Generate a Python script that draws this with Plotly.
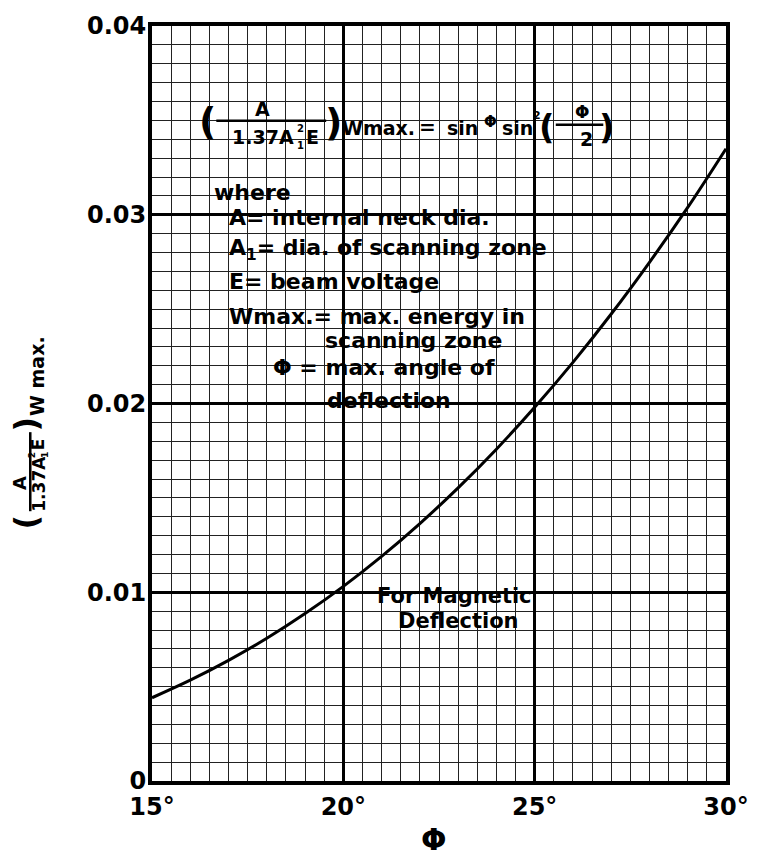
import plotly.graph_objects as go

# ---- data ----
phi_deg = [15, 16, 17, 18, 19, 20, 21, 22, 23, 24, 25, 26, 27, 28, 29, 30]
w_norm = [0.00441, 0.00534, 0.00639, 0.00756, 0.00887, 0.01031, 0.01190, 0.01364,
          0.01553, 0.01758, 0.01980, 0.02218, 0.02474, 0.02748, 0.03039, 0.03350]

x_tickvals = [15, 20, 25, 30]
x_ticktext = ["15°", "20°", "25°", "30°"]
y_tickvals = [0, 0.01, 0.02, 0.03, 0.04]
y_ticktext = ["0", "0.01", "0.02", "0.03", "0.04"]

W, H = 761, 858
ML, MR, MT, MB = 152, 29, 17, 77
PW, PH = W - ML - MR, H - MT - MB
FONT = "DejaVu Sans"


def P(px, py):
    return (px - ML) / PW, (H - MB - py) / PH


fig = go.Figure()
fig.add_trace(go.Scatter(x=phi_deg, y=w_norm, mode="lines",
                         line=dict(color="black", width=3, shape="spline"),
                         hoverinfo="skip"))

annos = []
shapes = []


def txt(px, py, s, size, anchor="center", angle=0, yanchor="middle"):
    x, y = P(px, py)
    annos.append(dict(x=x, y=y, xref="paper", yref="paper", text=s, showarrow=False,
                      xanchor=anchor, yanchor=yanchor, textangle=angle,
                      font=dict(family=FONT, size=size, color="black", weight="bold")))


def hline(px0, px1, py, w=2.5):
    x0, y = P(px0, py)
    x1, _ = P(px1, py)
    shapes.append(dict(type="line", xref="paper", yref="paper", x0=x0, x1=x1, y0=y, y1=y,
                       line=dict(color="black", width=w)))


def vline(px, py0, py1, w=2.5):
    x, y0 = P(px, py0)
    _, y1 = P(px, py1)
    shapes.append(dict(type="line", xref="paper", yref="paper", x0=x, x1=x, y0=y0, y1=y1,
                       line=dict(color="black", width=w)))


# formula at top
txt(208, 113, "(", 38)
txt(264, 101, "A", 19)
hline(217, 328, 113)
txt(298, 129, "1.37A", 19, anchor="right")
txt(302, 121, "2", 10)
txt(302, 138, "1", 10)
txt(306, 129, "E", 19, anchor="left")
txt(335, 114, ")", 38)
txt(381, 120, "Wmax.", 19)
txt(430, 119, "=", 20)
txt(466, 120, "sin", 19)
txt(494, 114, "Φ", 15)
txt(521, 120, "sin", 19)
txt(541, 108, "2", 11)
txt(551, 119, "(", 34)
txt(586, 104, "Φ", 17)
hline(560, 608, 117)
txt(591, 131, "2", 19)
txt(612, 119, ")", 34)

# legend block
txt(213, 185, "where", 22, "left")
txt(228, 211, "A= internal neck dia.", 22, "left")
txt(228, 243, "A<sub>1</sub>= dia. of scanning zone", 22, "left")
txt(228, 276, "E= beam voltage", 22, "left")
txt(228, 311, "Wmax.= max. energy in", 22, "left")
txt(325, 335, "scanning zone", 22, "left")
txt(272, 363, "Φ = max. angle of", 22, "left")
txt(327, 396, "deflection", 22, "left")

# curve label
txt(458, 594, "For Magnetic", 21)
txt(462, 619, "Deflection", 21)

# y axis title (rotated pieces)
txt(36, 371, "W max.", 19, angle=-90)
txt(25, 420, ")", 32, angle=-90)
txt(37, 480, "1.37A", 17, angle=-90)
txt(31, 451, "2", 9, angle=-90)
txt(44, 451, "1", 9, angle=-90)
txt(37, 440, "E", 17, angle=-90)
vline(29, 428, 508)
txt(18, 479, "A", 18, angle=-90)
txt(25, 519, "(", 32, angle=-90)

# x axis title
txt(437, 840, "Φ", 30)

fig.update_layout(
    width=W, height=H,
    margin=dict(l=ML, r=MR, t=MT, b=MB, pad=0),
    paper_bgcolor="white", plot_bgcolor="white",
    showlegend=False,
    annotations=annos, shapes=shapes,
    xaxis=dict(range=[15, 30], tickvals=x_tickvals, ticktext=x_ticktext,
               showgrid=True, gridcolor="black", gridwidth=2.5,
               minor=dict(dtick=0.5, tick0=15, showgrid=True, gridcolor="#222", gridwidth=1.4),
               showline=True, linecolor="black", linewidth=4, mirror=True,
               ticks="", ticklabelstandoff=1, zeroline=False,
               tickfont=dict(family=FONT, size=24, color="black", weight="bold")),
    yaxis=dict(range=[0, 0.04], tickvals=y_tickvals, ticktext=y_ticktext,
               showgrid=True, gridcolor="black", gridwidth=2.5,
               minor=dict(dtick=0.001, tick0=0, showgrid=True, gridcolor="#222", gridwidth=1.4),
               showline=True, linecolor="black", linewidth=4, mirror=True,
               ticks="", ticklabelstandoff=-3, zeroline=False,
               tickfont=dict(family=FONT, size=24, color="black", weight="bold")),
)

fig.write_html("out.html")
